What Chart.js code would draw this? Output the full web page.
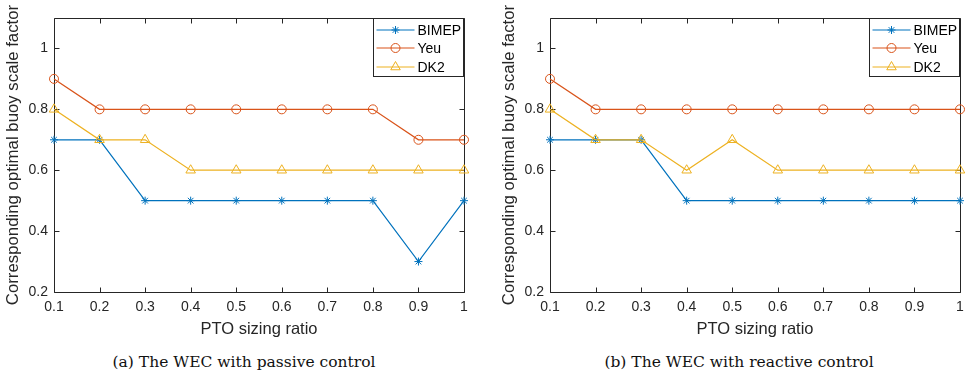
<!DOCTYPE html>
<html>
<head>
<meta charset="utf-8">
<script src="https://cdn.jsdelivr.net/npm/chart.js@4"></script>
<style>
  body { margin: 0; background: #fff; width: 967px; height: 376px; overflow: hidden; position: relative; }
  .panel { position: absolute; top: 0; width: 480px; height: 345px; }
  .caption { position: absolute; top: 353px; width: 400px; text-align: center;
             font-family: 'DejaVu Serif', serif; font-size: 15.5px; color: #111; white-space: nowrap; }
</style>
</head>
<body>
<div class="panel" style="left:0"><canvas id="passiveChart"></canvas></div>
<div class="panel" style="left:496px"><canvas id="reactiveChart"></canvas></div>
<div class="caption" style="left:44px">(a) The WEC with passive control</div>
<div class="caption" style="left:539px">(b) The WEC with reactive control</div>
<script>
var sizingRatio = [0.1, 0.2, 0.3, 0.4, 0.5, 0.6, 0.7, 0.8, 0.9, 1];
var xTickLabels = ['0.1', '0.2', '0.3', '0.4', '0.5', '0.6', '0.7', '0.8', '0.9', '1'];
var yTicks = [0.2, 0.4, 0.6, 0.8, 1];
var yTickLabels = ['0.2', '0.4', '0.6', '0.8', '1'];

var passiveBIMEP = [0.7, 0.7, 0.5, 0.5, 0.5, 0.5, 0.5, 0.5, 0.3, 0.5];
var passiveYeu   = [0.9, 0.8, 0.8, 0.8, 0.8, 0.8, 0.8, 0.8, 0.7, 0.7];
var passiveDK2   = [0.8, 0.7, 0.7, 0.6, 0.6, 0.6, 0.6, 0.6, 0.6, 0.6];

var reactiveBIMEP = [0.7, 0.7, 0.7, 0.5, 0.5, 0.5, 0.5, 0.5, 0.5, 0.5];
var reactiveYeu   = [0.9, 0.8, 0.8, 0.8, 0.8, 0.8, 0.8, 0.8, 0.8, 0.8];
var reactiveDK2   = [0.8, 0.7, 0.7, 0.6, 0.7, 0.6, 0.6, 0.6, 0.6, 0.6];

var BLUE = '#0072BD', ORANGE = '#D95319', YELLOW = '#EDB120';
var AXIS = '#262626';
var SANS = "'Liberation Sans', Arial, sans-serif";

function drawMarker(ctx, style, radius, x, y) {
  if (Chart.helpers && Chart.helpers.drawPoint) {
    Chart.helpers.drawPoint(ctx, { pointStyle: style, radius: radius, rotation: 0, borderWidth: 1 }, x, y);
  }
}

// MATLAB-style box with inward tick marks, plus a boxed legend in the top right
var axesBox = {
  id: 'axesBox',
  beforeDatasetsDraw: function(chart) {
    var ctx = chart.ctx, a = chart.chartArea;
    var xs = chart.scales.x, ys = chart.scales.y;
    var t = 5;
    ctx.save();
    ctx.strokeStyle = AXIS;
    ctx.lineWidth = 1;
    ctx.beginPath();
    var L = Math.round(a.left) + 0.5, R = Math.round(a.right) + 0.5;
    var T = Math.round(a.top) + 0.5, B = Math.round(a.bottom) + 0.5;
    ctx.rect(L, T, R - L, B - T);
    sizingRatio.forEach(function(v) {
      var px = Math.round(xs.getPixelForValue(v)) + 0.5;
      ctx.moveTo(px, B); ctx.lineTo(px, B - t);
      ctx.moveTo(px, T); ctx.lineTo(px, T + t);
    });
    yTicks.forEach(function(v) {
      var py = Math.round(ys.getPixelForValue(v)) + 0.5;
      ctx.moveTo(L, py); ctx.lineTo(L + t, py);
      ctx.moveTo(R, py); ctx.lineTo(R - t, py);
    });
    ctx.stroke();
    ctx.restore();
  },
  afterDraw: function(chart) {
    var ctx = chart.ctx, a = chart.chartArea;
    var w = 90, h = 58;
    var x0 = Math.round(a.right - w - 1) + 0.5, y0 = Math.round(a.top) + 0.5;
    ctx.save();
    ctx.fillStyle = '#fff';
    ctx.fillRect(x0, y0, w, h);
    ctx.strokeStyle = AXIS;
    ctx.lineWidth = 1;
    ctx.strokeRect(x0, y0, w, h);
    chart.data.datasets.forEach(function(ds, i) {
      var y = Math.round(y0 + 11 + i * 18.5);
      ctx.strokeStyle = ds.borderColor;
      ctx.lineWidth = ds.borderWidth;
      ctx.beginPath();
      ctx.moveTo(x0 + 3, y); ctx.lineTo(x0 + 41, y);
      ctx.stroke();
      ctx.fillStyle = 'rgba(0,0,0,0)';
      ctx.lineWidth = 1;
      drawMarker(ctx, ds.pointStyle, ds.pointRadius, x0 + 22, y);
      ctx.fillStyle = '#000';
      ctx.font = '14px ' + SANS;
      ctx.textBaseline = 'middle';
      ctx.textAlign = 'left';
      ctx.fillText(ds.label, x0 + 44, y + 1);
    });
    ctx.restore();
  }
};

function makeSet(label, values, color, style, radius, order) {
  return {
    label: label,
    data: values.map(function(v, i) { return { x: sizingRatio[i], y: v }; }),
    borderColor: color,
    backgroundColor: 'rgba(0,0,0,0)',
    pointBorderColor: color,
    pointBackgroundColor: 'rgba(0,0,0,0)',
    borderWidth: 1.2,
    pointStyle: style,
    pointRadius: radius,
    pointHoverRadius: radius,
    pointBorderWidth: 1,
    tension: 0,
    fill: false,
    clip: false,
    order: order
  };
}

function makeChart(id, bimep, yeu, dk2) {
  return new Chart(document.getElementById(id), {
    type: 'line',
    data: {
      datasets: [
        makeSet('BIMEP', bimep, BLUE, 'star', 4, 2),
        makeSet('Yeu', yeu, ORANGE, 'circle', 4.5, 1),
        makeSet('DK2', dk2, YELLOW, 'triangle', 5.5, 0)
      ]
    },
    options: {
      responsive: true,
      maintainAspectRatio: false,
      animation: false,
      layout: { padding: { top: 18, right: 16, left: 0, bottom: 0 } },
      plugins: { legend: { display: false }, tooltip: { enabled: false } },
      scales: {
        x: {
          type: 'linear', min: 0.1, max: 1,
          afterBuildTicks: function(s) { s.ticks = sizingRatio.map(function(v) { return { value: v }; }); },
          afterFit: function(s) { s.height = 53; },
          grid: { display: false, drawTicks: false },
          border: { display: false },
          ticks: {
            autoSkip: false, maxRotation: 0, padding: 7, color: AXIS,
            font: { family: SANS, size: 14 },
            callback: function(v, i) { return xTickLabels[i]; }
          },
          title: {
            display: true, text: 'PTO sizing ratio', color: AXIS,
            font: { family: SANS, size: 16.5 }, padding: { top: 0, bottom: 6 }
          }
        },
        y: {
          type: 'linear', min: 0.2, max: 1.1,
          afterBuildTicks: function(s) { s.ticks = yTicks.map(function(v) { return { value: v }; }); },
          afterFit: function(s) { s.width = 54; },
          grid: { display: false, drawTicks: false },
          border: { display: false },
          ticks: {
            padding: 6, color: AXIS,
            font: { family: SANS, size: 14 },
            callback: function(v, i) { return yTickLabels[i]; }
          },
          title: {
            display: true, text: 'Corresponding optimal buoy scale factor', color: AXIS,
            font: { family: SANS, size: 16.8 }, padding: { top: 3, bottom: 0 }
          }
        }
      }
    },
    plugins: [axesBox]
  });
}

makeChart('passiveChart', passiveBIMEP, passiveYeu, passiveDK2);
makeChart('reactiveChart', reactiveBIMEP, reactiveYeu, reactiveDK2);
</script>
</body>
</html>
